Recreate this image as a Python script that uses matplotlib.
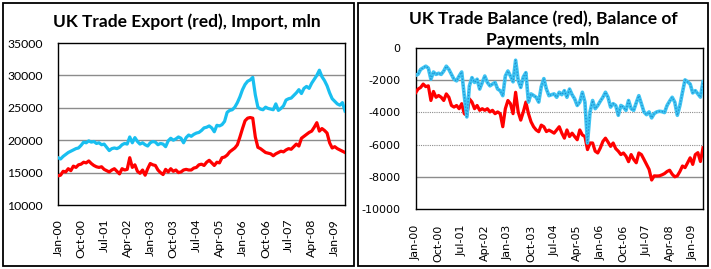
import matplotlib
matplotlib.use("Agg")
import matplotlib.pyplot as plt
from matplotlib.patches import Rectangle
import numpy as np

# ---- data (monthly, Jan-2000 .. May-2009) ----
tick_labels = ["Jan-00", "Oct-00", "Jul-01", "Apr-02", "Jan-03", "Oct-03", "Jul-04",
               "Apr-05", "Jan-06", "Oct-06", "Jul-07", "Apr-08", "Jan-09"]

imports = [17300, 17100, 17500, 17800, 18100, 18300, 18500, 18700, 18800, 19200,
           19700, 19600, 19900, 19700, 19800, 19500, 19600, 19300, 19400, 18900,
           18400, 18700, 18800, 18700, 18900, 19300, 19500, 19400, 20500, 19600,
           20400, 19800, 19400, 19600, 19300, 19100, 19600, 19800, 19700, 19300,
           19500, 19400, 19000, 19900, 20300, 20000, 20200, 20500, 20300, 19600,
           20400, 20800, 20600, 20900, 21100, 21200, 21500, 21900, 22000, 22200,
           21900, 21300, 22300, 22200, 22400, 22900, 24300, 24600, 24700, 25100,
           25800, 26700, 27800, 28600, 29100, 29300, 29700, 27000, 25100, 24800,
           24700, 25100, 24900, 24800, 24700, 25600, 24600, 24900, 25300, 26200,
           26400, 26500, 26900, 27300, 27800, 27200, 28000, 28300, 28000, 28800,
           29400, 30000, 30800, 29800, 29200, 28400, 27300, 26400, 26000, 25600,
           25400, 25800, 24500]

exports = [14500, 14600, 15200, 15100, 15600, 15300, 16000, 15800, 16200, 16300,
           16600, 16500, 16800, 16400, 16100, 15900, 15800, 15900, 15500, 15300,
           15100, 15400, 15600, 15200, 14800, 15600, 15400, 15500, 17300, 15800,
           16200, 15200, 14900, 15400, 14600, 15600, 16400, 16200, 16100, 15400,
           15000, 14700, 15500, 15100, 15600, 15200, 15400, 15000, 15100, 15400,
           15500, 15400, 15400, 15700, 15800, 16200, 16300, 16100, 16600, 16900,
           16500, 16100, 16600, 16500, 17300, 17400, 17700, 18200, 18500, 18800,
           19300, 20500, 21800, 23000, 23400, 23500, 23400, 20500, 18900, 18700,
           18400, 18100, 18000, 17900, 17600, 17900, 18100, 18300, 18200, 18500,
           18700, 18600, 19000, 19400, 19100, 20300, 20600, 20900, 21200, 21400,
           22000, 22700, 21400, 21800, 21500, 21100, 19600, 18800, 19000, 18700,
           18500, 18300, 18100]

trade_balance = [-2790, -2550, -2450, -2240, -2400, -2350, -3260, -2700, -3060, -2950,
                 -3060, -3260, -2850, -3060, -3570, -3670, -3570, -3770, -3460, -4080,
                 -4180, -3160, -3360, -3770, -3570, -3870, -3770, -3870, -3770, -3970,
                 -3870, -4080, -3970, -4080, -4890, -3770, -3260, -3460, -4080, -2750,
                 -3970, -4480, -3970, -3360, -4070, -4580, -4890, -5090, -5200, -4790,
                 -4890, -5190, -5100, -5190, -5290, -5090, -4890, -5290, -5600, -5090,
                 -5500, -5290, -5500, -5700, -5090, -5400, -5500, -6310, -5900, -5900,
                 -6410, -6520, -6210, -5800, -5600, -5840, -6110, -5900, -6250, -6410,
                 -6620, -6520, -6720, -7060, -6620, -6920, -7130, -6520, -6620, -6920,
                 -7230, -7540, -8200, -7940, -7950, -7940, -7880, -7800, -7670, -7590,
                 -7840, -8000, -7940, -7670, -7330, -7430, -7130, -6820, -7230, -6620,
                 -6500, -7050, -6200]

payments = [-1700, -1630, -1330, -1230, -1130, -1250, -1940, -1490, -1640, -1570,
            -1640, -1430, -1130, -1330, -1640, -1940, -2040, -1740, -1490, -2960,
            -4280, -2350, -1840, -2140, -1940, -2550, -2140, -1740, -2140, -2350,
            -2240, -2140, -2550, -2650, -2960, -1740, -1430, -1740, -2100, -760,
            -2000, -2450, -1800, -1530, -3360, -2850, -2950, -3060, -3360, -2400,
            -1900, -2550, -2960, -2900, -2850, -3060, -2750, -2900, -2650, -3060,
            -2550, -2900, -3160, -3570, -3360, -2750, -3360, -5900, -3970, -3260,
            -3770, -3570, -3300, -3060, -2750, -3060, -3670, -3460, -3570, -4180,
            -3570, -3670, -3870, -3260, -3770, -3870, -3400, -2960, -3460, -3970,
            -4140, -3970, -4340, -4070, -3970, -3930, -3950, -4010, -3570, -3300,
            -3060, -3360, -4180, -3570, -2750, -1980, -2100, -2240, -2790, -2650,
            -2850, -3050, -2100]

W, H = 711, 269
fig = plt.figure(figsize=(W / 100, H / 100), dpi=100)
fig.patch.set_facecolor("white")

def frect(x0, y0, x1, y1):
    return [x0 / W, 1 - y1 / H, (x1 - x0) / W, (y1 - y0) / H]

# outer chart borders
for (x0, y0, x1, y1) in [(3, 3, 354, 266), (358, 3, 708, 266)]:
    fig.patches.append(Rectangle((x0 / W, 1 - y1 / H), (x1 - x0) / W, (y1 - y0) / H,
                                 transform=fig.transFigure, fill=False,
                                 edgecolor="black", linewidth=1.3))

red = "#FF0000"
blue = "#19BFF0"
grid_c = "#8C8C8C"
lfont = "Lato"

# ---------- left chart ----------
ax1 = fig.add_axes(frect(58, 43, 345, 205))
x1 = np.arange(len(imports))
for yv in [15000, 20000, 25000, 30000]:
    ax1.axhline(yv, color=grid_c, lw=1.0, zorder=1)
ax1.plot(x1, exports, color=red, lw=2.3, zorder=3, solid_joinstyle="round")
ax1.plot(x1, imports, color=blue, lw=2.3, zorder=3, solid_joinstyle="round")
ax1.set_xlim(0, len(imports) - 1)
ax1.set_ylim(10000, 35000)
ax1.set_yticks([10000, 15000, 20000, 25000, 30000, 35000])
ax1.set_yticklabels(["10000", "15000", "20000", "25000", "30000", "35000"],
                    fontsize=8.8, family=lfont)
ax1.set_xticks(np.arange(0, 109, 9))
ax1.set_xticklabels(tick_labels, rotation=90, fontsize=8.8, family=lfont)
ax1.tick_params(axis="y", length=0, pad=11)
ax1.tick_params(axis="x", length=0, pad=10)
for s in ax1.spines.values():
    s.set_color("black")
    s.set_linewidth(1.0)
fig.text(187 / W, 1 - 22 / H, "UK Trade Export (red), Import, mln",
         ha="center", va="center", fontsize=12.5, fontweight="bold", family=lfont)

# ---------- right chart ----------
ax2 = fig.add_axes(frect(415.5, 48, 703, 209))
x2 = np.arange(len(payments))
ax2.axhline(-2000, color=grid_c, lw=1.0, zorder=1)
ax2.axhline(-8000, color=grid_c, lw=1.0, zorder=1)
ax2.axhline(-4000, color=grid_c, lw=0.8, ls=(0, (1, 1)), zorder=1)
ax2.axhline(-6000, color=grid_c, lw=0.8, ls=(0, (1, 1)), zorder=1)
ax2.plot(x2, trade_balance, color=red, lw=2.3, zorder=3, solid_joinstyle="round")
ax2.plot(x2, payments, color="#3FC4F2", lw=2.6, zorder=4, solid_joinstyle="round")
ax2.plot(x2, payments, color="#1E8FD0", lw=0.9, ls=(0, (1, 1.5)), zorder=5)
ax2.set_xlim(0, len(payments) - 1)
ax2.set_ylim(-10000, 0)
ax2.set_yticks([-10000, -8000, -6000, -4000, -2000, 0])
ax2.set_yticklabels(["-10000", "-8000", "-6000", "-4000", "-2000", "0"],
                    fontsize=8, family="DejaVu Sans")
ax2.set_xticks(np.arange(0, 109, 9))
ax2.set_xticklabels(tick_labels, rotation=90, fontsize=8, family="DejaVu Sans")
ax2.tick_params(axis="y", length=0, pad=11)
ax2.tick_params(axis="x", length=0, pad=11)
for s in ax2.spines.values():
    s.set_color("black")
    s.set_linewidth(1.0)
fig.text(543 / W, 1 - 19 / H, "UK Trade Balance (red), Balance of",
         ha="center", va="center", fontsize=12.5, fontweight="bold", family=lfont)
fig.text(543 / W, 1 - 40 / H, "Payments, mln",
         ha="center", va="center", fontsize=12.5, fontweight="bold", family=lfont)

fig.savefig("out.png", dpi=100)
